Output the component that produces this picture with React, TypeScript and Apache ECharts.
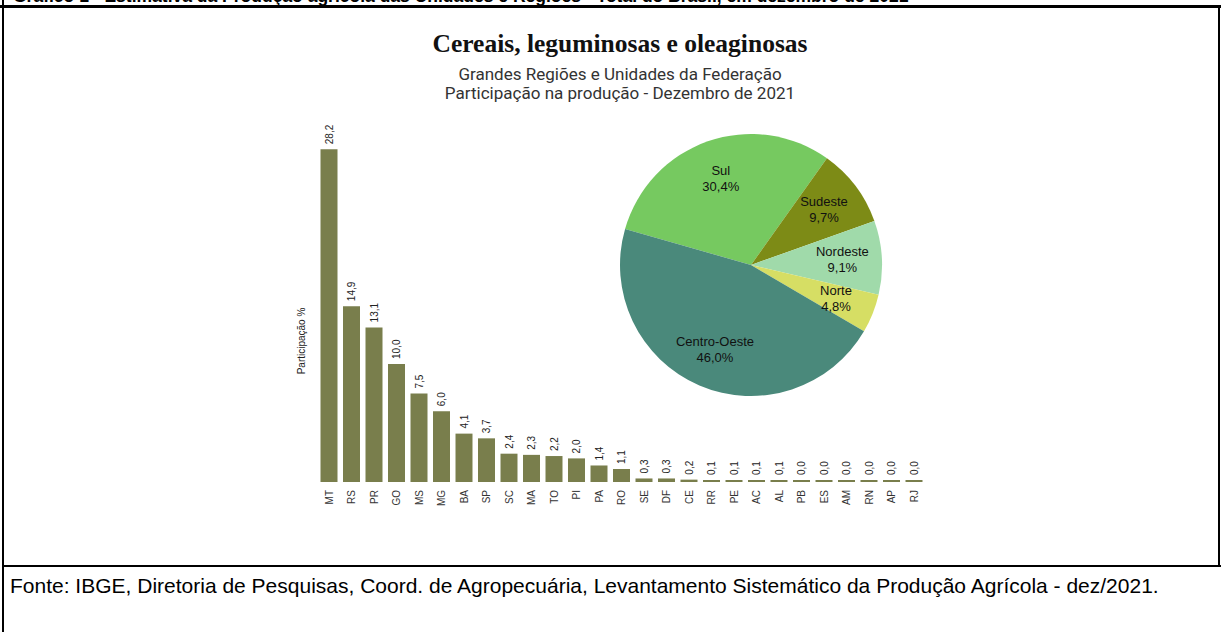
import React, { useEffect, useRef } from "react";
import * as echarts from "echarts";

const states = ["MT","RS","PR","GO","MS","MG","BA","SP","SC","MA","TO","PI","PA","RO","SE","DF","CE","RR","PE","AC","AL","PB","ES","AM","RN","AP","RJ"];
const stateShare = [28.2,14.9,13.1,10.0,7.5,6.0,4.1,3.7,2.4,2.3,2.2,2.0,1.4,1.1,0.3,0.3,0.2,0.1,0.1,0.1,0.1,0.0,0.0,0.0,0.0,0.0,0.0];
const regions = ["Sul","Sudeste","Nordeste","Norte","Centro-Oeste"];
const regionShare = [30.4,9.7,9.1,4.8,46.0];
const regionColors = ["#76c960","#7d8b16","#a0daaa","#d6de64","#4a897b"];

const topLine = "Gráfico 1 - Estimativa da Produção agrícola das Unidades e Regiões - Total do Brasil, em dezembro de 2021";
const title = "Cereais, leguminosas e oleaginosas";
const subtitle1 = "Grandes Regiões e Unidades da Federação";
const subtitle2 = "Participação na produção - Dezembro de 2021";
const yName = "Participação %";
const source = "Fonte: IBGE, Diretoria de Pesquisas, Coord. de Agropecuária, Levantamento Sistemático da Produção Agrícola - dez/2021.";

const fmt = (v: number) => v.toFixed(1).replace(".", ",");

export default function App() {
  const ref = useRef<HTMLDivElement>(null);
  useEffect(() => {
    if (!ref.current) return;
    const chart = echarts.init(ref.current, null, { renderer: "svg" });
    const pieData = regions.map((n, i) => ({ name: n, value: regionShare[i], itemStyle: { color: regionColors[i] } }));
    chart.setOption({
      animation: false,
      backgroundColor: "#ffffff",
      grid: { left: 317.75, right: 295.75, top: 128, bottom: 150 },
      xAxis: {
        type: "category",
        data: states,
        axisLine: { show: false },
        axisTick: { show: false },
        axisLabel: { rotate: 90, interval: 0, margin: 8, fontSize: 10, color: "#333", fontFamily: "Liberation Sans" },
      },
      yAxis: {
        type: "value",
        min: 0,
        max: 30,
        axisLine: { show: false },
        axisTick: { show: false },
        axisLabel: { show: false },
        splitLine: { show: false },
        name: yName,
        nameLocation: "middle",
        nameGap: 11,
        nameTextStyle: { fontSize: 10, color: "#222", fontFamily: "Liberation Sans", padding: [0, 72, 0, 0] },
      },
      series: [
        {
          type: "bar",
          data: stateShare,
          barWidth: 17,
          barMinHeight: 2,
          itemStyle: { color: "#797e4c" },
          label: {
            show: true,
            position: "top",
            rotate: 90,
            align: "left",
            verticalAlign: "middle",
            distance: 5,
            fontSize: 10,
            color: "#222",
            fontFamily: "Liberation Sans",
            formatter: (p: any) => fmt(p.value),
          },
        },
        {
          type: "pie",
          center: [751, 265],
          radius: [0, 131],
          startAngle: 164,
          clockwise: true,
          label: { show: false },
          labelLine: { show: false },
          silent: true,
          data: pieData,
        },
        {
          type: "pie",
          center: [751, 265],
          radius: [46, 131],
          startAngle: 164,
          clockwise: true,
          silent: true,
          avoidLabelOverlap: false,
          itemStyle: { color: "rgba(0,0,0,0)" },
          label: {
            show: true,
            position: "inside",
            fontSize: 13,
            lineHeight: 16,
            color: "#111",
            fontFamily: "Liberation Sans",
            formatter: (p: any) => p.name + "\n" + fmt(p.value) + "%",
          },
          labelLine: { show: false },
          data: regions.map((n, i) => ({ name: n, value: regionShare[i], itemStyle: { color: "rgba(0,0,0,0)" } })),
        },
      ],
      graphic: [
        { type: "text", x: 13, y: 5, style: { text: topLine, font: 'bold 17.5px "Liberation Sans"', fill: "#000", align: "left", verticalAlign: "bottom" } },
        { type: "rect", shape: { x: 0, y: 5, width: 1221, height: 3 }, style: { fill: "#000" } },
        { type: "rect", shape: { x: 2, y: 0, width: 2, height: 632 }, style: { fill: "#000" } },
        { type: "rect", shape: { x: 1218, y: 5, width: 2, height: 562 }, style: { fill: "#000" } },
        { type: "rect", shape: { x: 2, y: 565, width: 1219, height: 2 }, style: { fill: "#000" } },
        { type: "text", x: 620, y: 43, style: { text: title, font: 'bold 25.5px "Liberation Serif"', fill: "#111", align: "center", verticalAlign: "middle" } },
        { type: "text", x: 620, y: 74.5, scaleX: 1.065, style: { text: subtitle1, font: '16px Roboto', fill: "#333", align: "center", verticalAlign: "middle" } },
        { type: "text", x: 620, y: 93.5, scaleX: 1.065, style: { text: subtitle2, font: '16px Roboto', fill: "#333", align: "center", verticalAlign: "middle" } },
        { type: "text", x: 10, y: 585, style: { text: source, font: '21px "Liberation Sans"', fill: "#000", align: "left", verticalAlign: "middle" } },
      ],
    });
    return () => chart.dispose();
  }, []);
  return <div ref={ref} style={{ position: "absolute", left: 0, top: 0, width: 1221, height: 632 }} />;
}
